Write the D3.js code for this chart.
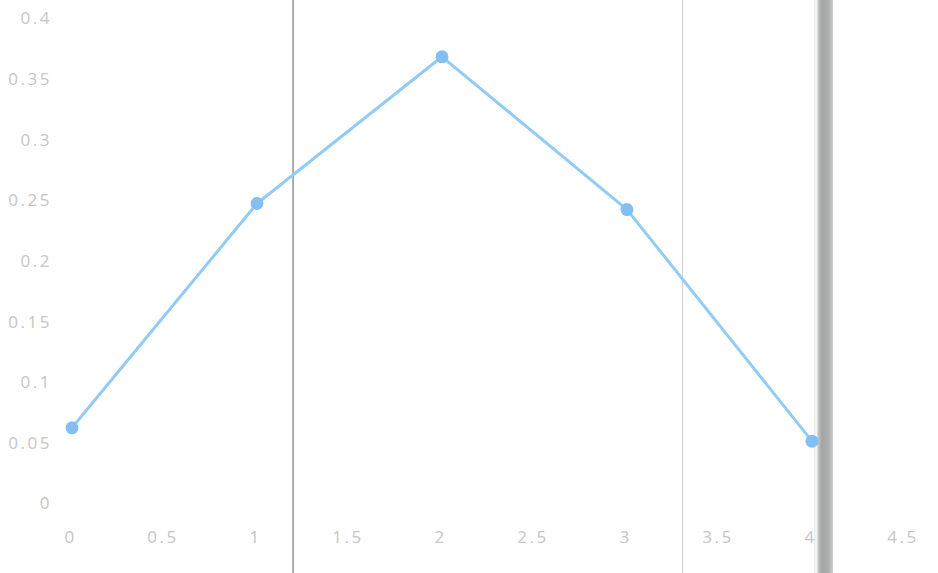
<!DOCTYPE html>
<html>
<head>
<meta charset="utf-8">
<script src="https://cdn.jsdelivr.net/npm/d3@7"></script>
<style>
  html, body { margin: 0; padding: 0; background: #ffffff; }
  svg { display: block; }
  .tick text { font-family: "Open Sans", "DejaVu Sans", sans-serif; fill: #c6c6c6; letter-spacing: 2.5px; }
</style>
</head>
<body>
<svg id="chart" width="938" height="573"></svg>
<script>
// ---- data ----
const xValues = [0, 1, 2, 3, 4];
const yValues = [0.062, 0.247, 0.368, 0.242, 0.051];
const xTicks = [0, 0.5, 1, 1.5, 2, 2.5, 3, 3.5, 4, 4.5];
const yTicks = [0, 0.05, 0.1, 0.15, 0.2, 0.25, 0.3, 0.35, 0.4];
const thinMarkers = [1.195, 3.3];      // vertical reference lines (x data units)
const thickMarker = [4.075];           // thick vertical bar (x data units)

// ---- layout ----
const W = 938, H = 573;
const svg = d3.select("#chart");

const x = d3.scaleLinear().domain([0, 4.5]).range([72, 904.5]);
const y = d3.scaleLinear().domain([0, 0.4]).range([503, 18]);

// gradient for thick bar
const defs = svg.append("defs");
const grad = defs.append("linearGradient").attr("id", "barGrad")
  .attr("x1", "0%").attr("x2", "100%").attr("y1", "0%").attr("y2", "0%");
grad.append("stop").attr("offset", "0%").attr("stop-color", "#e8ecec");
grad.append("stop").attr("offset", "15%").attr("stop-color", "#f6f8f8");
grad.append("stop").attr("offset", "22%").attr("stop-color", "#c2c6c5");
grad.append("stop").attr("offset", "42%").attr("stop-color", "#a3a8a7");
grad.append("stop").attr("offset", "72%").attr("stop-color", "#a8adac");
grad.append("stop").attr("offset", "100%").attr("stop-color", "#c6cac9");

// thick vertical bar (behind the series)
svg.append("g").selectAll("rect").data(thickMarker).join("rect")
  .attr("x", d => x(d) - 12)
  .attr("y", 0)
  .attr("width", 19)
  .attr("height", H)
  .attr("fill", "url(#barGrad)");

// y axis labels
const yAxis = d3.axisLeft(y).tickValues(yTicks).tickSize(0).tickPadding(0)
  .tickFormat(d => d3.format("")(+d.toFixed(2)));
svg.append("g").attr("transform", "translate(52,0)").call(yAxis)
  .call(g => g.select(".domain").remove())
  .call(g => g.selectAll("text").attr("font-size", 17).attr("dy", "0.35em"));

// x axis labels
const xAxis = d3.axisBottom(x).tickValues(xTicks).tickSize(0).tickPadding(0)
  .tickFormat(d => d3.format("")(+d.toFixed(1)));
svg.append("g").attr("transform", "translate(-2,537)").call(xAxis)
  .call(g => g.select(".domain").remove())
  .call(g => g.selectAll("text").attr("font-size", 17).attr("dy", "0.35em"));

// thin vertical reference lines
svg.append("g").selectAll("line").data(thinMarkers).join("line")
  .attr("x1", d => x(d)).attr("x2", d => x(d))
  .attr("y1", 0).attr("y2", H)
  .attr("stroke", (d, i) => i === 0 ? "#9a9a9a" : "#cdd4dc")
  .attr("stroke-width", (d, i) => i === 0 ? 1.6 : 1.1);

// line series
const line = d3.line().x((d, i) => x(xValues[i])).y(d => y(d));
svg.append("path").datum(yValues)
  .attr("d", line)
  .attr("fill", "none")
  .attr("stroke", "#92cbf6")
  .attr("stroke-width", 3)
  .attr("stroke-linejoin", "round");

svg.append("g").selectAll("circle").data(yValues).join("circle")
  .attr("cx", (d, i) => x(xValues[i]))
  .attr("cy", d => y(d))
  .attr("r", 6.5)
  .attr("fill", "#84bff3");
</script>
</body>
</html>
